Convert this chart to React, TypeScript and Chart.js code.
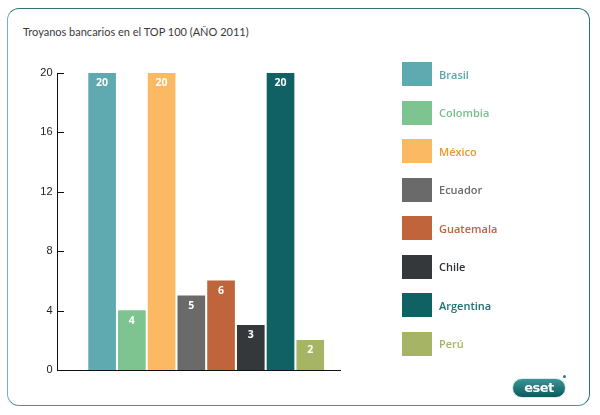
import React, { useEffect, useRef } from "react";
import { Chart, registerables } from "chart.js";

Chart.register(...registerables);

const title = "Troyanos bancarios en el TOP 100 (AÑO 2011)";
const countries = ["Brasil", "Colombia", "México", "Ecuador", "Guatemala", "Chile", "Argentina", "Perú"];
const values = [20, 4, 20, 5, 6, 3, 20, 2];
const barColors = ["#5fa9b1", "#7ec491", "#fbb964", "#6a6a6a", "#c0643c", "#35383a", "#0f6163", "#a6b466"];
const textColors = ["#5aa6af", "#78c08b", "#f0962a", "#6a6a6a", "#c0643c", "#2e3133", "#1f6f72", "#a6b466"];
const yTicks = [0, 4, 8, 12, 16, 20];

const valueLabelPlugin = {
  id: "valueLabels",
  afterDatasetsDraw(chart: any) {
    const ctx = chart.ctx;
    const meta = chart.getDatasetMeta(0);
    ctx.save();
    ctx.fillStyle = "#ffffff";
    ctx.font = "bold 10.5px 'Open Sans'";
    ctx.textAlign = "center";
    ctx.textBaseline = "middle";
    meta.data.forEach((bar: any, i: number) => {
      ctx.fillText(String(values[i]), bar.x, bar.y + 10);
    });
    ctx.restore();
  },
};

const innerTicksPlugin = {
  id: "innerTicks",
  afterDraw(chart: any) {
    const y = chart.scales.y;
    const ctx = chart.ctx;
    const left = chart.chartArea.left;
    ctx.save();
    ctx.strokeStyle = "#111";
    ctx.lineWidth = 1;
    yTicks.forEach((t) => {
      const py = Math.round(y.getPixelForValue(t)) + 0.5;
      ctx.beginPath();
      ctx.moveTo(left, py);
      ctx.lineTo(left + 6.5, py);
      ctx.stroke();
    });
    ctx.restore();
  },
};

export default function App() {
  const ref = useRef<HTMLCanvasElement | null>(null);

  useEffect(() => {
    if (!ref.current) return;
    const chart = new Chart(ref.current, {
      type: "bar",
      data: {
        datasets: [
          {
            data: values.map((v, i) => ({ x: i + 1, y: v })),
            backgroundColor: barColors,
            borderWidth: 0,
            barThickness: 27,
          },
        ],
      },
      options: {
        animation: false,
        responsive: false,
        maintainAspectRatio: false,
        layout: { padding: { left: 40, top: 73, right: 260, bottom: 45 } },
        plugins: { legend: { display: false }, tooltip: { enabled: false }, title: { display: false } },
        scales: {
          x: {
            type: "linear",
            min: -0.5,
            max: 9,
            offset: false,
            ticks: { display: false },
            grid: { display: false, drawTicks: false, offset: false },
            border: { display: true, color: "#111", width: 1 },
            afterFit(s: any) {
              s.height = 0;
            },
          },
          y: {
            min: 0,
            max: 20,
            afterBuildTicks(s: any) {
              s.ticks = yTicks.map((v) => ({ value: v }));
            },
            ticks: {
              color: "#222",
              font: { family: "'Liberation Sans'", size: 11 },
              padding: 5,
            },
            grid: { display: false, drawTicks: false },
            border: { display: true, color: "#111", width: 1 },
            afterFit(s: any) {
              s.width = 17.5;
            },
          },
        },
      },
      plugins: [valueLabelPlugin, innerTicksPlugin],
    } as any);
    return () => chart.destroy();
  }, []);

  return (
    <div style={{ position: "absolute", left: 0, top: 0, width: 600, height: 415, background: "#fff", overflow: "hidden" }}>
      <div
        style={{
          position: "absolute",
          left: 7,
          top: 8,
          width: 581,
          height: 396,
          borderStyle: "solid",
          borderWidth: 1.5,
          borderColor: "#2e7374 #2e7374 #4f9394 #79b0b0",
          borderRadius: 12,
        }}
      />
      <div
        style={{
          position: "absolute",
          left: 23,
          top: 24,
          fontFamily: "Lato",
          fontSize: 11,
          lineHeight: "16px",
          color: "#3a3a3a",
          whiteSpace: "nowrap",
        }}
      >
        {title}
      </div>
      <canvas ref={ref} width={600} height={415} style={{ position: "absolute", left: 0, top: 0, width: 600, height: 415 }} />
      {countries.map((c, i) => (
        <div key={c} style={{ position: "absolute", left: 402, top: 62 + i * 38.5, height: 24, display: "flex", alignItems: "center" }}>
          <div style={{ width: 30, height: 24, background: barColors[i] }} />
          <div
            style={{
              marginLeft: 7,
              fontFamily: "'Open Sans'",
              fontWeight: 600,
              fontSize: 11,
              color: textColors[i],
              whiteSpace: "nowrap",
            }}
          >
            {c}
          </div>
        </div>
      ))}
      <div
        style={{
          position: "absolute",
          left: 512,
          top: 378,
          width: 52,
          height: 18,
          borderRadius: 10,
          border: "1.5px solid #d9ebeb",
          background: "linear-gradient(#3a9696, #0b5a5c)",
          color: "#fff",
          fontFamily: "'DejaVu Sans'",
          fontWeight: 700,
          fontSize: 13,
          lineHeight: "18px",
          textAlign: "center",
          letterSpacing: -0.5,
        }}
      >
        eset
      </div>
      <div style={{ position: "absolute", left: 563, top: 375, width: 3, height: 3, borderRadius: 2, background: "#2b7f80" }} />
    </div>
  );
}
